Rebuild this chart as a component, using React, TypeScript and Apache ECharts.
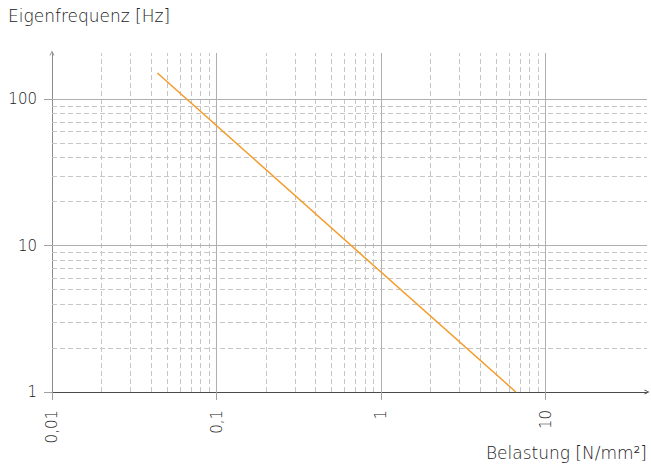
import React, { useEffect, useRef } from 'react';
import * as echarts from 'echarts';

const xMajor = [0.01, 0.1, 1, 10];
const xMajorLabels = ['0,01', '0,1', '1', '10'];
const yMajor = [1, 10, 100];
const yMajorLabels = ['1', '10', '100'];
const xMinor = [0.02, 0.03, 0.04, 0.05, 0.06, 0.07, 0.08, 0.09, 0.2, 0.3, 0.4, 0.5, 0.6, 0.7, 0.8, 0.9, 2, 3, 4, 5, 6, 7, 8, 9];
const yMinor = [2, 3, 4, 5, 6, 7, 8, 9, 20, 30, 40, 50, 60, 70, 80, 90];
const xGridMajor = [0.1, 1, 10];
const yGridMajor = [10, 100];
const lineX = [0.0437, 6.6];
const lineY = [151, 1];
const xName = 'Belastung [N/mm²]';
const yName = 'Eigenfrequenz [Hz]';

const FONT = '"DejaVu Sans", sans-serif';
const TEXT = '#222';
const ARROW = 'path://M0,10 L5,0 L10,10 L8.2,10 L5,3.6 L1.8,10 Z';

function labelFor(v: number, majors: number[], labels: string[]) {
  for (let i = 0; i < majors.length; i++) {
    if (Math.abs(Math.log10(v) - Math.log10(majors[i])) < 1e-6) return labels[i];
  }
  return '';
}

export default function App() {
  const ref = useRef<HTMLDivElement>(null);
  useEffect(() => {
    if (!ref.current) return;
    const chart = echarts.init(ref.current, undefined, { renderer: 'svg' });
    const minorStyle = { type: [5, 3], color: '#c6c6c6', width: 1 };
    const majorStyle = { type: 'solid', color: '#b0b0b0', width: 1 };
    const markData: any[] = [
      ...xMinor.map((v) => ({ xAxis: v, lineStyle: minorStyle })),
      ...yMinor.map((v) => ({ yAxis: v, lineStyle: minorStyle })),
      ...xGridMajor.map((v) => ({ xAxis: v, lineStyle: majorStyle })),
      ...yGridMajor.map((v) => ({ yAxis: v, lineStyle: majorStyle })),
    ];
    chart.setOption({
      animation: false,
      grid: { left: 52, right: 4, top: 53, bottom: 77, containLabel: false },
      xAxis: {
        type: 'log',
        logBase: 10,
        min: 0.01,
        max: 41.4,
        axisLine: {
          show: true,
          lineStyle: { color: '#4a4a4a', width: 1 },
          symbol: ['none', ARROW],
          symbolSize: [7, 5],
        },
        axisTick: { show: true, length: 8, lineStyle: { color: '#a0a0a0' }, customValues: xMajor },
        axisLabel: {
          rotate: 90,
          margin: 18,
          fontSize: 15,
          fontFamily: FONT,
          fontWeight: 200,
          color: TEXT,
          customValues: xMajor,
          formatter: (v: number) => labelFor(v, xMajor, xMajorLabels),
        },
        splitLine: { show: false },
        minorTick: { show: false },
      },
      yAxis: {
        type: 'log',
        logBase: 10,
        min: 1,
        max: 207,
        axisLine: {
          show: true,
          lineStyle: { color: '#8a8a8a', width: 1 },
          symbol: ['none', ARROW],
          symbolSize: [7, 5],
        },
        axisTick: { show: true, length: 8, lineStyle: { color: '#a0a0a0' }, customValues: yMajor },
        axisLabel: {
          margin: 15,
          fontSize: 15,
          fontFamily: FONT,
          fontWeight: 200,
          color: TEXT,
          customValues: yMajor,
          formatter: (v: number) => labelFor(v, yMajor, yMajorLabels),
        },
        splitLine: { show: false },
      },
      graphic: [
        {
          type: 'text',
          left: 8,
          top: 7,
          style: { text: yName, fontSize: 17, fontFamily: FONT, fontWeight: 200, fill: TEXT },
        },
        {
          type: 'text',
          right: 4,
          top: 444,
          style: { text: xName, fontSize: 17, fontFamily: FONT, fontWeight: 200, fill: TEXT },
        },
      ],
      series: [
        {
          type: 'line',
          data: lineX.map((x, i) => [x, lineY[i]]),
          showSymbol: false,
          symbol: 'none',
          lineStyle: { color: '#F39C2C', width: 1.5 },
          z: 5,
          markLine: {
            silent: true,
            symbol: ['none', 'none'],
            label: { show: false },
            animation: false,
            data: markData,
            z: 1,
          },
        },
      ],
    });
    return () => chart.dispose();
  }, []);
  return (
    <div
      ref={ref}
      style={{ position: 'fixed', left: 0, top: 0, width: 651, height: 469, background: '#fff' }}
    />
  );
}
